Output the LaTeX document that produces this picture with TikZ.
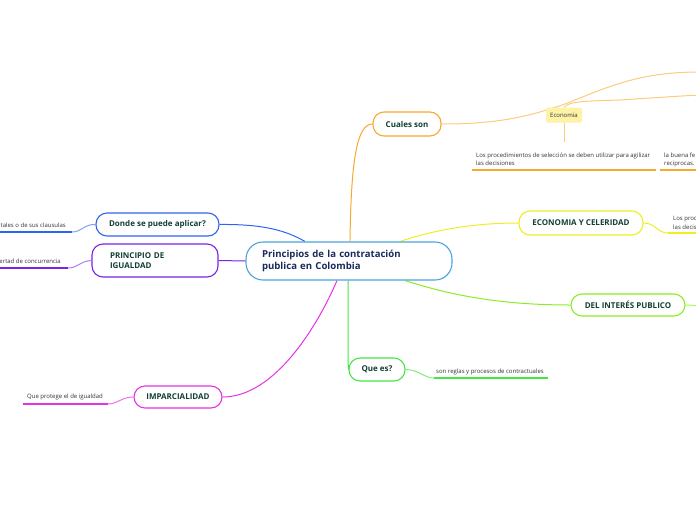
\documentclass[tikz,border=0pt]{standalone}
\usepackage{fontspec}
\setmainfont{Open Sans}
\usetikzlibrary{backgrounds}
\definecolor{cblue}{HTML}{4AA3DF}
\definecolor{corange}{HTML}{F6A832}
\definecolor{lorange}{HTML}{FBCB7E}
\definecolor{cyellow}{HTML}{EEEE22}
\definecolor{clime}{HTML}{88EE22}
\definecolor{cgreen}{HTML}{44E644}
\definecolor{cmag}{HTML}{E632E6}
\definecolor{cbl}{HTML}{2F64F0}
\definecolor{cpur}{HTML}{7B22EA}
\definecolor{ecofill}{HTML}{FDF2A6}
\definecolor{ntext}{HTML}{123F35}
\definecolor{navy}{HTML}{1A2A5A}
\definecolor{ltext}{HTML}{333333}
\begin{document}
\begin{tikzpicture}[x=1pt,y=-1pt,
  box/.style={draw, rounded corners=11pt, line width=1.1pt, fill=white, inner sep=0pt,
    font=\bfseries\fontsize{8}{10.5}\selectfont, text=ntext},
  leaf/.style={font=\fontsize{6}{8}\selectfont, text=ltext, inner sep=0pt},
  conn/.style={line width=1pt},
  uline/.style={line width=1.8pt}]
\useasboundingbox (0,0) rectangle (696,520);
\clip (0,0) rectangle (696,520);

% edge coordinates
\coordinate (r1) at (700,72);
\coordinate (r2) at (700,95);
\coordinate (eb) at (564,142);
\coordinate (u1a) at (472,170);
\coordinate (u1b) at (656,170);
\coordinate (u2a) at (660,170);
\coordinate (u2b) at (700,170);
\coordinate (uy) at (700,233);
\coordinate (ul) at (700,306);
\coordinate (ug) at (548,378);
\coordinate (um) at (23,404);
\coordinate (ub) at (-5,232);
\coordinate (up) at (-5,268);

\node[box, draw=cblue, rounded corners=17pt, minimum width=206pt, minimum height=38pt,
  text width=174pt, align=left, font=\bfseries\fontsize{9.6}{12.5}\selectfont, text=navy]
  (c) at (349,261) {Principios de la contratación\\publica en Colombia};
\node[box, draw=corange, minimum width=68pt, minimum height=24pt] (cs) at (407,124) {Cuales son};
\node[box, draw=cyellow, minimum width=124pt, minimum height=24pt] (ec) at (581,223) {ECONOMIA Y CELERIDAD};
\node[box, draw=clime, minimum width=114pt, minimum height=22pt] (di) at (628,305) {DEL INTERÉS PUBLICO};
\node[box, draw=cgreen, minimum width=56pt, minimum height=23pt] (qe) at (377,369.5) {Que es?};
\node[box, draw=cmag, minimum width=88pt, minimum height=22pt] (im) at (178,397) {IMPARCIALIDAD};
\node[box, draw=cbl, minimum width=123pt, minimum height=23pt] (dp) at (157.5,224.5) {Donde se puede aplicar?};
\node[box, draw=cpur, minimum width=126pt, minimum height=33pt, text width=90pt, align=left] (pi) at (155,260.5) {PRINCIPIO DE\\IGUALDAD};
\node[fill=ecofill, rounded corners=2pt, minimum width=36pt, minimum height=15pt, inner sep=0pt,
  font=\fontsize{6}{7}\selectfont, text=ltext] (eco) at (564,115) {Economia};

\begin{scope}[on background layer]
\draw[conn, corange] ([xshift=1pt]c.north) .. controls (351,165) and (356,124) .. (cs.west);
\draw[conn, lorange] (cs.east) .. controls (500,124) and (530,116) .. (565,104)
   .. controls (610,86) and (640,72) .. (r1);
\draw[conn, lorange] (eco.north) .. controls (568,101) and (590,101) .. (620,100) .. controls (650,98) and (680,96) .. (r2);
\draw[conn, cyellow] ([xshift=51pt]c.north) .. controls (440,228) and (480,223) .. (ec.west);
\draw[conn, clime] ([xshift=56pt]c.south) .. controls (450,295) and (500,305) .. (di.west);
\draw[conn, cgreen] ([xshift=-1pt]c.south) .. controls (348,330) and (348,368) .. (qe.west);
\draw[conn, cmag] ([xshift=-12pt]c.south) .. controls (318,325) and (275,397) .. (im.east);
\draw[conn, cbl] (dp.east) .. controls (262,224) and (285,230) .. ([xshift=-44pt]c.north);
\draw[conn, cpur] (c.west) -- (pi.east);
\end{scope}

\draw[conn, lorange] (eco.south) -- (eb);

% leaves (right)
\node[leaf, anchor=base west] (t1) at (476,157) {Los procedimientos de selección se deben utilizar para agilizar};
\node[leaf, anchor=base west] (t1b) at (476,165.5) {las decisiones};
\draw[uline, corange] (u1a) -- (u1b);
\node[leaf, anchor=base west] (t2) at (664,157) {la buena fe};
\node[leaf, anchor=base west] (t2b) at (664,165.5) {reciprocas.};
\draw[uline, corange] (u2a) -- (u2b);

\coordinate (y0) at (668,233);
\draw[conn, cyellow] (ec.east) .. controls (656,223) and (657,233) .. (y0);
\draw[uline, cyellow] (y0) -- (uy);
\node[leaf, anchor=base west] (t3) at (673,220.5) {Los proc};
\node[leaf, anchor=base west] (t3b) at (673,229) {las decis};

\draw[conn, clime!70] (di.east) .. controls (690,305) .. (ul);

\coordinate (g0) at (434,378);
\draw[conn, cgreen!70] (qe.east) .. controls (420,370) and (424,378) .. (g0);
\draw[uline, cgreen] (g0) -- (ug);
\node[leaf, anchor=base west] (t4) at (436,373) {son reglas y procesos de contractuales};

\coordinate (m0) at (108,404);
\draw[conn, cmag!70] (im.west) .. controls (121,397) and (118,404) .. (m0);
\draw[uline, cmag] (m0) -- (um);
\node[leaf, anchor=base west] (t5) at (27,398.5) {Que protege el de igualdad};

\coordinate (b0) at (72,232);
\draw[conn, cbl!60] (dp.west) .. controls (84,224) and (82,232) .. (b0);
\draw[uline, cbl] (b0) -- (ub);
\node[leaf, anchor=base east] (t6) at (66,227) {tales o de sus clausulas};

\coordinate (p0) at (68,268);
\draw[conn, cpur!60] (pi.west) .. controls (80,261) and (78,268) .. (p0);
\draw[uline, cpur] (p0) -- (up);
\node[leaf, anchor=base east] (t7) at (61,263) {ertad de concurrencia};
\end{tikzpicture}
\end{document}
